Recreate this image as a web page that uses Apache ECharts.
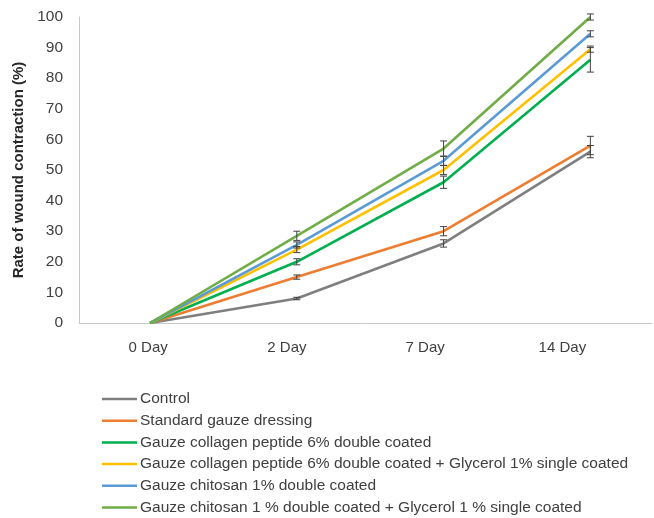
<!DOCTYPE html>
<html>
<head>
<meta charset="utf-8">
<script src="https://cdn.jsdelivr.net/npm/echarts@6/dist/echarts.min.js"></script>
<style>html,body{margin:0;padding:0;background:#fff}#c{width:654px;height:518px}</style>
</head>
<body>
<div id="c"></div>
<script>
const categories = ['0 Day', '2 Day', '7 Day', '14 Day'];
const seriesNames = [
  'Control',
  'Standard gauze dressing',
  'Gauze collagen peptide 6% double coated',
  'Gauze collagen peptide 6% double coated + Glycerol 1% single coated',
  'Gauze chitosan 1% double coated',
  'Gauze chitosan 1 % double coated + Glycerol 1 % single coated'
];
const control      = [0, 8, 26, 56];
const standard     = [0, 15, 30, 58];
const collagen     = [0, 20, 46, 86];
const collagenGly  = [0, 24, 50, 89.5];
const chitosan     = [0, 25.5, 53, 94.5];
const chitosanGly  = [0, 28.5, 57, 100];
const controlErr     = [0, 0.4, 1.2, 2];
const standardErr    = [0, 0.7, 1.5, 3];
const collagenErr    = [0, 1, 2, 4];
const collagenGlyErr = [0, 1, 1.5, 1];
const chitosanErr    = [0, 1, 1.5, 1];
const chitosanGlyErr = [0, 1.5, 2.5, 1];
const yTicks = [0, 10, 20, 30, 40, 50, 60, 70, 80, 90, 100];

const values = [control, standard, collagen, collagenGly, chitosan, chitosanGly];
const errors = [controlErr, standardErr, collagenErr, collagenGlyErr, chitosanErr, chitosanGlyErr];
const colors = ['#7F7F7F', '#ED7D31', '#00B050', '#FFC000', '#5B9BD5', '#70AD47'];
const labelShift = [5, 14, 24, 36];

const chart = echarts.init(document.getElementById('c'), null, {renderer: 'canvas'});
const font = 'Liberation Sans';
const series = [];
values.forEach((arr, k) => {
  series.push({
    name: seriesNames[k], type: 'line', xAxisIndex: 1,
    data: arr.map((v, i) => [i, v]),
    symbol: 'none', lineStyle: {color: colors[k], width: 2.6}, itemStyle: {color: colors[k]},
    z: 2
  });
});
values.forEach((arr, k) => {
  series.push({
    type: 'custom', xAxisIndex: 1, z: 3, silent: true,
    data: arr.map((v, i) => [i, v, errors[k][i]]).filter(d => d[2] > 0),
    renderItem: function (params, api) {
      const x = api.value(0), v = api.value(1), e = api.value(2);
      const top = api.coord([x, v + e]);
      const bot = api.coord([x, v - e]);
      const hw = 3.5;
      const st = {stroke: '#404040', lineWidth: 1};
      return {type: 'group', children: [
        {type: 'line', shape: {x1: top[0], y1: top[1], x2: bot[0], y2: bot[1]}, style: st},
        {type: 'line', shape: {x1: top[0] - hw, y1: top[1], x2: top[0] + hw, y2: top[1]}, style: st},
        {type: 'line', shape: {x1: bot[0] - hw, y1: bot[1], x2: bot[0] + hw, y2: bot[1]}, style: st}
      ]};
    }
  });
});

const rich = {};
labelShift.forEach((p, i) => {
  rich['s' + i] = {fontFamily: font, fontSize: 15, color: '#404040', padding: [0, p, 0, 0]};
});

chart.setOption({
  animation: false,
  backgroundColor: '#fff',
  grid: {left: 79, right: 2, top: 17, bottom: 195},
  legend: {
    data: seriesNames, orient: 'vertical', left: 102, top: 390, padding: 0,
    icon: 'rect', itemWidth: 35, itemHeight: 2.5, itemGap: 3.7,
    textStyle: {fontFamily: font, fontSize: 15.5, color: '#404040', lineHeight: 18, padding: [0, 0, 0, -2]}
  },
  xAxis: [{
    type: 'category', data: categories, boundaryGap: true,
    axisLine: {lineStyle: {color: '#C8C8C8', width: 1}},
    axisTick: {show: false},
    axisLabel: {
      margin: 17,
      formatter: (v, i) => '{s' + i + '|' + v + '}',
      rich: rich, fontFamily: font, fontSize: 15, color: '#404040'
    }
  }, {
    type: 'value', min: -0.484, max: 3.42, show: false
  }],
  yAxis: {
    type: 'value', min: yTicks[0], max: yTicks[yTicks.length - 1], interval: 10,
    name: 'Rate of wound contraction (%)', nameLocation: 'middle', nameGap: 39,
    nameTextStyle: {fontFamily: font, fontSize: 15, fontWeight: 'bold', color: '#262626'},
    axisLine: {show: true, onZero: false, lineStyle: {color: '#C8C8C8', width: 1}},
    axisTick: {show: false},
    splitLine: {show: false},
    axisLabel: {fontFamily: font, fontSize: 15.5, color: '#404040', margin: 16}
  },
  series: series
});
</script>
</body>
</html>
